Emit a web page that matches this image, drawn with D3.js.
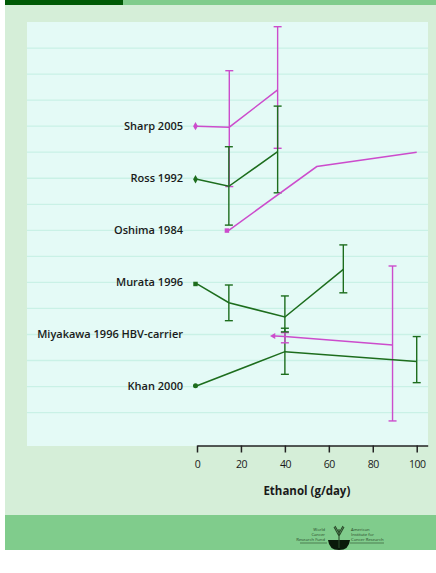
<!DOCTYPE html>
<html>
<head>
<meta charset="utf-8">
<script src="https://cdn.jsdelivr.net/npm/d3@7"></script>
<style>
	body { margin: 0; background: #ffffff; }
	svg { display: block; }
	text { font-family: 'Open Sans', sans-serif; }
</style>
</head>
<body>
<svg id="chart" width="436" height="573"></svg>
<script>
'use strict'

// studies, top to bottom; y values are in row units (one gridline = 1)
var studies = ['Sharp 2005', 'Ross 1992', 'Oshima 1984', 'Murata 1996', 'Miyakawa 1996 HBV-carrier', 'Khan 2000'];
var studyRows = [4, 6, 8, 10, 12, 14];
var studyColors = ['magenta', 'green', 'magenta', 'green', 'magenta', 'green'];
var studySymbols = ['diamond', 'diamond', 'square', 'square', 'triangle', 'circle'];

// [dose, y, low, high] ; null low/high = no error bar
var sharp = [[0, 4.0, null, null], [14.7, 4.04, 1.87, 6.32], [36.7, 2.61, 0.18, 4.85]];
var ross = [[0, 6.04, null, null], [14.5, 6.31, 4.79, 7.80], [36.7, 4.98, 3.23, 6.56]];
var oshima = [[14.3, 8.01, null, null], [54.5, 5.55, null, null], [100, 5.0, null, null]];
var murata = [[0, 10.06, null, null], [14.5, 10.78, 10.10, 11.47], [40, 11.33, 10.52, 13.53], [66.6, 9.50, 8.56, 10.40]];
var miyakawa = [[35.5, 12.06, null, null], [40, 12.08, 11.93, 12.32], [89, 12.40, 9.37, 15.32]];
var khan = [[0, 13.97, null, null], [40, 12.66, 11.76, 11.90], [100, 13.04, 12.08, 13.85]];
var series = [sharp, ross, oshima, murata, miyakawa, khan];

var xTicks = [0, 20, 40, 60, 80, 100];
var gridRows = d3.range(1, 16);

var colors = { magenta: '#cc4ccc', green: '#1d6d1d' };

var svg = d3.select('#chart');
var plot = { left: 27, right: 428, top: 22, bottom: 446 };

// page frame
svg.append('rect').attr('x', 5).attr('y', 0).attr('width', 431).attr('height', 515).attr('fill', '#d5eed8');
svg.append('rect').attr('x', 5).attr('y', 0).attr('width', 118).attr('height', 5).attr('fill', '#005a05');
svg.append('rect').attr('x', 123).attr('y', 0).attr('width', 313).attr('height', 5).attr('fill', '#80cc8c');
svg.append('rect').attr('x', 5).attr('y', 515).attr('width', 431).attr('height', 35).attr('fill', '#80cc8c');

svg.append('rect')
	.attr('x', plot.left).attr('y', plot.top)
	.attr('width', plot.right - plot.left).attr('height', plot.bottom - plot.top)
	.attr('fill', '#e4faf6');

var xScale = d3.scaleLinear().domain([0, 105]).range([197, 427.7]);
var yScale = d3.scaleLinear().domain([0, 1]).range([plot.top, plot.top + 26.04]);

svg.append('g')
	.selectAll('line')
	.data(gridRows)
	.enter()
	.append('line')
	.attr('x1', plot.left).attr('x2', plot.right)
	.attr('y1', function(d){ return yScale(d); })
	.attr('y2', function(d){ return yScale(d); })
	.attr('stroke', '#c9f1e6')
	.attr('stroke-width', 1.3);

// study labels
svg.append('g')
	.selectAll('text')
	.data(studies)
	.enter()
	.append('text')
	.attr('x', 183)
	.attr('y', function(d, i){ return yScale(studyRows[i]); })
	.attr('dy', '0.35em')
	.attr('text-anchor', 'end')
	.attr('font-size', 11)
	.attr('font-weight', 600)
	.attr('fill', '#1a1a1a')
	.text(function(d){ return d; });

// x axis
var axis = svg.append('g')
	.attr('transform', 'translate(0,445.5)')
	.call(d3.axisBottom(xScale).tickValues(xTicks).tickSize(7).tickSizeOuter(0).tickPadding(8));
axis.select('.domain').attr('stroke', '#222').attr('stroke-width', 1.5);
axis.selectAll('.tick line').attr('stroke', '#222').attr('stroke-width', 1.5);
axis.selectAll('.tick text')
	.attr('font-family', "'Open Sans', sans-serif")
	.attr('font-size', 10.5)
	.attr('letter-spacing', -0.5)
	.attr('fill', '#1a1a1a');

svg.append('text')
	.attr('x', xScale(50))
	.attr('y', 491)
	.attr('dy', '0.35em')
	.attr('text-anchor', 'middle')
	.attr('font-size', 11.5)
	.attr('font-weight', 700)
	.attr('fill', '#1a1a1a')
	.text('Ethanol (g/day)');

// lines, error bars, start markers
var line = d3.line()
	.x(function(d){ return xScale(d[0]); })
	.y(function(d){ return yScale(d[1]); });

var symbolTypes = {
	diamond: d3.symbolDiamond, square: d3.symbolSquare,
	triangle: d3.symbolTriangle, circle: d3.symbolCircle
};

series.forEach(function(pts, i){
	var c = colors[studyColors[i]];
	var g = svg.append('g');

	g.append('path')
		.attr('d', line(pts))
		.attr('fill', 'none')
		.attr('stroke', c)
		.attr('stroke-width', 1.5);

	var bars = pts.filter(function(d){ return d[2] !== null; });
	var eb = g.selectAll('g.err')
		.data(bars)
		.enter()
		.append('g')
		.attr('class', 'err')
		.attr('stroke', c)
		.attr('stroke-width', 1.4);
	eb.append('line')
		.attr('x1', function(d){ return xScale(d[0]); })
		.attr('x2', function(d){ return xScale(d[0]); })
		.attr('y1', function(d){ return yScale(d[2]); })
		.attr('y2', function(d){ return yScale(d[3]); });
	[2, 3].forEach(function(k){
		eb.append('line')
			.attr('x1', function(d){ return xScale(d[0]) - 4; })
			.attr('x2', function(d){ return xScale(d[0]) + 4; })
			.attr('y1', function(d){ return yScale(d[k]); })
			.attr('y2', function(d){ return yScale(d[k]); });
	});

	var s = pts[0];
	var rot = studySymbols[i] === 'triangle' ? -90 : 0;
	g.append('path')
		.attr('d', d3.symbol().type(symbolTypes[studySymbols[i]]).size(studySymbols[i] === 'triangle' ? 16 : 20)())
		.attr('transform', 'translate(' + (xScale(s[0]) - 1.5) + ',' + yScale(s[1]) + ') rotate(' + rot + ')')
		.attr('fill', c);
});

// footer logos
var logo = svg.append('g').attr('fill', '#2a4a2a').attr('font-size', 4.2);
logo.append('text').attr('x', 325).attr('y', 531).attr('text-anchor', 'end').text('World');
logo.append('text').attr('x', 325).attr('y', 536).attr('text-anchor', 'end').text('Cancer');
logo.append('text').attr('x', 325).attr('y', 541).attr('text-anchor', 'end').text('Research Fund');
logo.append('line').attr('x1', 300).attr('x2', 327).attr('y1', 543).attr('y2', 543).attr('stroke', '#2a4a2a').attr('stroke-width', 0.6);
logo.append('text').attr('x', 351).attr('y', 531).text('American');
logo.append('text').attr('x', 351).attr('y', 536).text('Institute for');
logo.append('text').attr('x', 351).attr('y', 541).text('Cancer Research');
logo.append('line').attr('x1', 350).attr('x2', 384).attr('y1', 543).attr('y2', 543).attr('stroke', '#2a4a2a').attr('stroke-width', 0.6);
logo.append('path')
	.attr('d', 'M328,540 L350,540 Q349,550 339,550 Q329,550 328,540 Z')
	.attr('fill', '#0a1a0a');
logo.append('path')
	.attr('d', 'M339,548 L339,529 M339,536 L334,527 M339,536 L344,527 M339,533 L335,526 M339,533 L343,526')
	.attr('stroke', '#2a4a2a').attr('stroke-width', 1.1).attr('fill', 'none');
</script>
</body>
</html>
